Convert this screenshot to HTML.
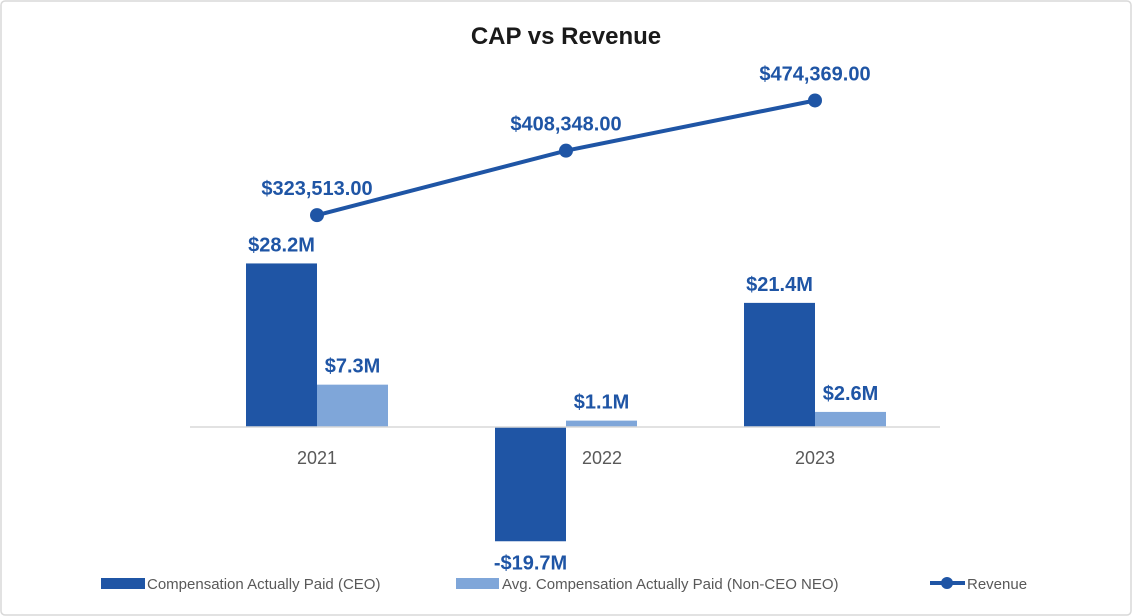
<!DOCTYPE html>
<html><head><meta charset="utf-8"><style>
body{margin:0;background:#fff;}
svg{display:block;font-family:"Liberation Sans",sans-serif;}
</style></head><body>
<svg id="chart" width="1132" height="616">
<rect x="1" y="1" width="1130" height="614" rx="4" fill="#fff" stroke="#d9d9d9" stroke-width="1.5"/>
<text x="566" y="44" text-anchor="middle" font-size="24" font-weight="bold" fill="#1a1a1a">CAP vs Revenue</text>
<g id="plot"></g>
<g>
<rect x="101" y="578" width="44" height="11" fill="#1f55a5"/>
<text x="147" y="589" font-size="15" fill="#595959">Compensation Actually Paid (CEO)</text>
<rect x="456" y="578" width="43" height="11" fill="#7fa6d9"/>
<text x="502" y="589" font-size="15" fill="#595959">Avg. Compensation Actually Paid (Non-CEO NEO)</text>
<line x1="930" y1="583" x2="965" y2="583" stroke="#1f55a5" stroke-width="4"/>
<circle cx="947" cy="583" r="6" fill="#1f55a5"/>
<text x="967" y="589" font-size="15" fill="#595959">Revenue</text>
</g>
</svg>
<script>
const categories = ["2021","2022","2023"];
const ceoValues = [28.2, -19.7, 21.4];
const neoValues = [7.3, 1.1, 2.6];
const revenueValues = [323513, 408348, 474369];
const ceoLabels = ["$28.2M","-$19.7M","$21.4M"];
const neoLabels = ["$7.3M","$1.1M","$2.6M"];
const revenueLabels = ["$323,513.00","$408,348.00","$474,369.00"];

const NS="http://www.w3.org/2000/svg";
const plot=document.getElementById('plot');
const baseY=427, pxPerM=5.8;
function yBar(v){return baseY - v*pxPerM;}
function yRev(v){return 461 - v*0.00076;}
function xCat(i){return 317 + i*249;}
function mk(tag,attrs){const e=document.createElementNS(NS,tag);for(const k in attrs)e.setAttribute(k,attrs[k]);plot.appendChild(e);return e;}
const bw=71;
categories.forEach((c,i)=>{
  const cx=xCat(i);
  const v=ceoValues[i];
  const r=mk('rect',{x:cx-bw,y:Math.min(yBar(v),baseY),width:bw,height:Math.abs(yBar(v)-baseY),fill:'#1f55a5'});
  
  
  const n=neoValues[i];
  const r2=mk('rect',{x:cx,y:Math.min(yBar(n),baseY),width:bw,height:Math.abs(yBar(n)-baseY),fill:'#7fa6d9'});
  
  
  const ly = v>=0 ? yBar(v)-12 : yBar(v)+28;
  const t=mk('text',{x:cx-bw/2,y:ly,'text-anchor':'middle','font-size':20,'font-weight':'bold',fill:'#1f55a5'});
  t.textContent=ceoLabels[i];
  
  
  const t2=mk('text',{x:cx+bw/2,y:yBar(n)-12,'text-anchor':'middle','font-size':20,'font-weight':'bold',fill:'#1f55a5'});
  t2.textContent=neoLabels[i];
  
  
  const xl=mk('text',{x:v<0?cx+36:cx,y:464,'text-anchor':'middle','font-size':18,fill:'#595959'});
  xl.textContent=c;
  
  
});
const ax=mk('line',{x1:190,y1:baseY,x2:940,y2:baseY,stroke:'#d9d9d9','stroke-width':1.5});


const pts=revenueValues.map((v,i)=>xCat(i)+','+yRev(v)).join(' ');
const pl=mk('polyline',{points:pts,fill:'none',stroke:'#1f55a5','stroke-width':4});


revenueValues.forEach((v,i)=>{
  const c=mk('circle',{cx:xCat(i),cy:yRev(v),r:7,fill:'#1f55a5'});
  
  
  const t=mk('text',{x:xCat(i),y:yRev(v)-20,'text-anchor':'middle','font-size':20,'font-weight':'bold',fill:'#1f55a5'});
  t.textContent=revenueLabels[i];
  
  
});
</script>
</body></html>
